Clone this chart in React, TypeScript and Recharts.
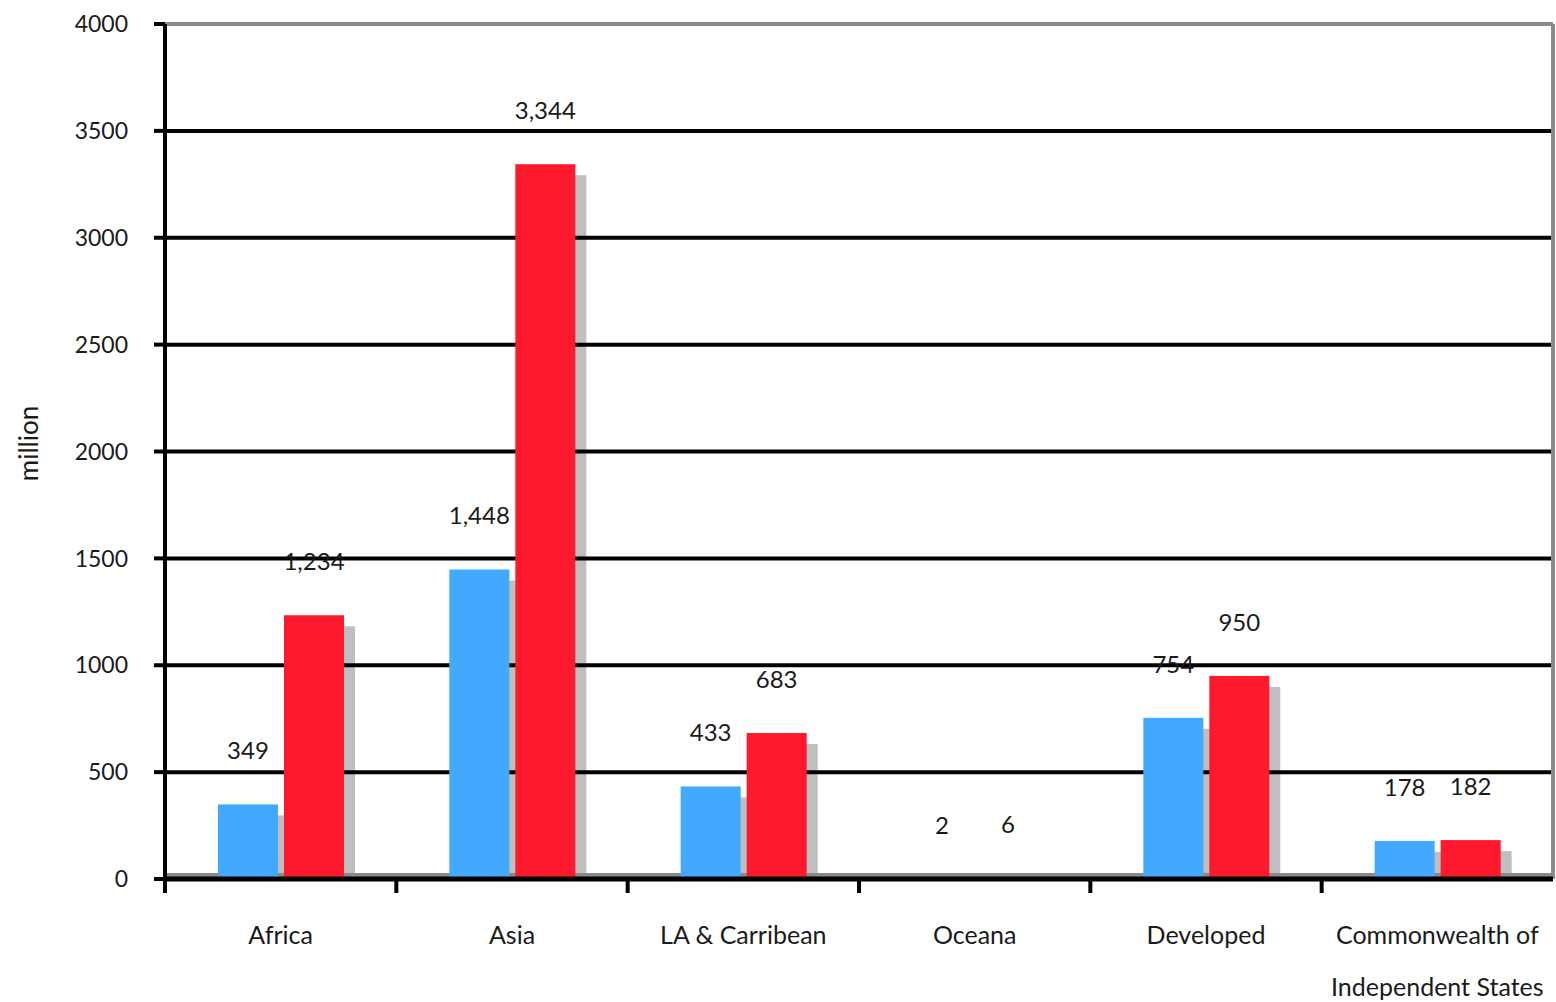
import React from 'react';
import {
  BarChart,
  Bar,
  XAxis,
  YAxis,
  CartesianGrid,
  ReferenceLine,
  ReferenceArea,
  LabelList,
} from 'recharts';

const categories = [
  'Africa',
  'Asia',
  'LA & Carribean',
  'Oceana',
  'Developed',
  'Commonwealth of Independent States',
];
const seriesBlue = [349, 1448, 433, 2, 754, 178];
const seriesRed = [1234, 3344, 683, 6, 950, 182];
const yTicks = [0, 500, 1000, 1500, 2000, 2500, 3000, 3500, 4000];
const tickLabelLines: Record<string, string[]> = {
  'Commonwealth of Independent States': ['Commonwealth of', 'Independent States'],
};

const data = categories.map((name, i) => ({
  name,
  blue: seriesBlue[i],
  red: seriesRed[i],
}));

const FONT = "Lato, 'Open Sans', sans-serif";
const TEXT = '#1a1a1a';
const SHADOW_OFF = 11;
const FLOOR_PX = 6;
const X_TICK_MARGIN = 47;

const ShadowBar = (props: any) => {
  const { x, y, width, height, fill } = props;
  if (x == null || y == null || !width || height == null) return null;
  const sh = height - SHADOW_OFF - FLOOR_PX;
  return (
    <g>
      {sh > 0 && (
        <rect
          x={x + SHADOW_OFF}
          y={y + SHADOW_OFF}
          width={width}
          height={sh}
          fill="#000"
          fillOpacity={0.25}
        />
      )}
      {height > 0 && <rect x={x} y={y} width={width} height={height} fill={fill} />}
    </g>
  );
};

const CategoryTick = (props: any) => {
  const { x, y, payload } = props;
  const lines = tickLabelLines[payload.value] ?? [payload.value];
  const half = payload.offset ?? 0;
  const axisY = y - X_TICK_MARGIN;
  return (
    <g>
      <line
        x1={x - half}
        x2={x - half}
        y1={axisY}
        y2={axisY + 14}
        stroke="#000"
        strokeWidth={4}
      />
      <text x={x} y={y} textAnchor="middle" fill={TEXT} fontSize={25} fontFamily={FONT}>
        {lines.map((l: string, i: number) => (
          <tspan key={i} x={x} dy={i === 0 ? '0.71em' : 52}>
            {l}
          </tspan>
        ))}
      </text>
    </g>
  );
};

const YTitle = (props: any) => {
  const vb = props.viewBox || {};
  const cx = (vb.x ?? 0) + 28;
  const cy = (vb.y ?? 0) + (vb.height ?? 0) / 2 - 8;
  return (
    <text
      x={cx}
      y={cy}
      transform={`rotate(-90 ${cx} ${cy})`}
      textAnchor="middle"
      dominantBaseline="central"
      fill={TEXT}
      fontSize={26}
      fontFamily={FONT}
    >
      million
    </text>
  );
};

const fmt = (v: any) => Number(v).toLocaleString('en-US');

export default function App() {
  return (
    <div style={{ position: 'absolute', left: 0, top: 0, background: '#fff' }}>
      <BarChart
        width={1556}
        height={1002}
        data={data}
        margin={{ top: 24, right: 3, bottom: 0, left: 0 }}
        barGap={6}
        barSize={60}
      >
        <CartesianGrid vertical={false} stroke="#000" strokeWidth={4} />
        <XAxis
          dataKey="name"
          interval={0}
          height={123}
          tickLine={false}
          tickSize={0}
          tickMargin={X_TICK_MARGIN}
          axisLine={{ stroke: '#000', strokeWidth: 5 }}
          tick={<CategoryTick />}
        />
        <YAxis
          width={165}
          domain={[0, 4000]}
          ticks={yTicks}
          interval={0}
          tickSize={11}
          tickMargin={26}
          tickLine={{ stroke: '#000', strokeWidth: 4 }}
          axisLine={{ stroke: '#000', strokeWidth: 4 }}
          tick={{ fill: TEXT, fontSize: 23, fontFamily: FONT }}
          label={{ content: <YTitle /> }}
        />
        <ReferenceArea y1={0} y2={28} fill="#8a8a8a" fillOpacity={1} stroke="none" />
        <ReferenceLine y={4000} stroke="#8c8c8c" strokeWidth={4} />
        <ReferenceLine
          x={categories[categories.length - 1]}
          position="end"
          stroke="#8c8c8c"
          strokeWidth={4}
        />
        <Bar dataKey="blue" fill="#42A9FF" shape={<ShadowBar />} isAnimationActive={false}>
          <LabelList
            dataKey="blue"
            position="top"
            offset={45}
            formatter={fmt}
            fill={TEXT}
            fontSize={24}
            fontFamily={FONT}
          />
        </Bar>
        <Bar dataKey="red" fill="#FF192D" shape={<ShadowBar />} isAnimationActive={false}>
          <LabelList
            dataKey="red"
            position="top"
            offset={45}
            formatter={fmt}
            fill={TEXT}
            fontSize={24}
            fontFamily={FONT}
          />
        </Bar>
      </BarChart>
    </div>
  );
}
